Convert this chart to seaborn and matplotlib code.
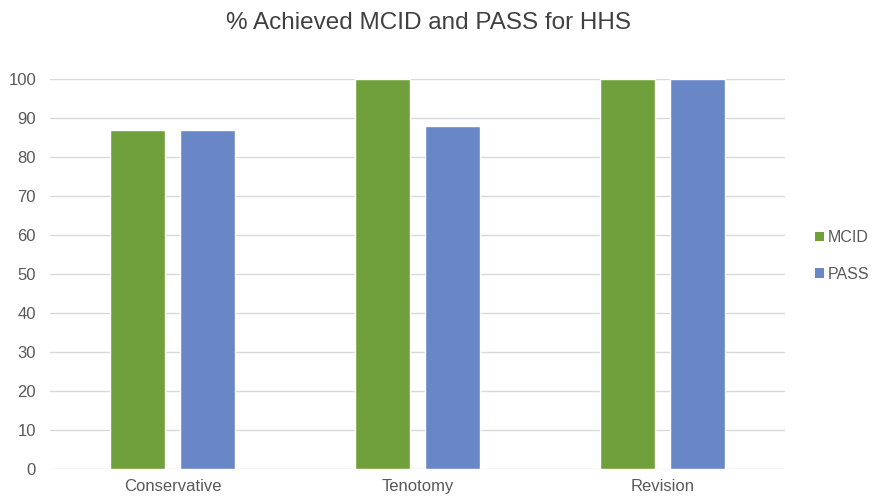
import matplotlib
matplotlib.use("Agg")
import matplotlib.pyplot as plt
import seaborn as sns
import pandas as pd
from matplotlib.patches import Patch

categories = ["Conservative", "Tenotomy", "Revision"]
mcid = [87, 100, 100]
pass_vals = [87, 88, 100]
series = ["MCID", "PASS"]
colors = ["#70A03C", "#6987C6"]

df = pd.DataFrame({
    "Group": categories * 2,
    "Series": [series[0]] * len(categories) + [series[1]] * len(categories),
    "Value": mcid + pass_vals,
})

sns.set_theme(style="white")
plt.rcParams["font.family"] = ["Liberation Sans", "DejaVu Sans"]

fig = plt.figure(figsize=(8.72, 4.96), dpi=100)
ax = fig.add_axes([50 / 872, 1 - 469 / 496, 735 / 872, 390 / 496])

sns.barplot(data=df, x="Group", y="Value", hue="Series", palette=colors,
            width=0.571, gap=0.216, ax=ax, legend=False, saturation=1)

ax.set_ylim(0, 100)
ax.set_xlim(-0.5, 2.5)
ax.set_yticks(range(0, 101, 10))
ax.yaxis.grid(True, color="#D9D9D9", linewidth=1)
ax.set_axisbelow(True)
for s in ax.spines.values():
    s.set_visible(False)
ax.set_xlabel("")
ax.set_ylabel("")
ax.tick_params(axis="both", length=0, labelsize=12, colors="#595959")
ax.tick_params(axis="y", pad=10)
ax.tick_params(axis="x", pad=7)

fig.text(428 / 872, 1 - 23 / 496, "% Achieved MCID and PASS for HHS",
         ha="center", va="center", fontsize=17.5, color="#404040")

handles = [Patch(facecolor=c, edgecolor="none", label=l) for c, l in zip(colors, series)]
fig.legend(handles=handles, loc="center left", bbox_to_anchor=(815 / 872, 1 - 256 / 496),
           frameon=False, fontsize=11.5, handlelength=0.55, handleheight=0.55,
           handletextpad=0.25, labelspacing=1.35, labelcolor="#595959",
           borderpad=0, borderaxespad=0)

fig.savefig("out.png", dpi=100)
